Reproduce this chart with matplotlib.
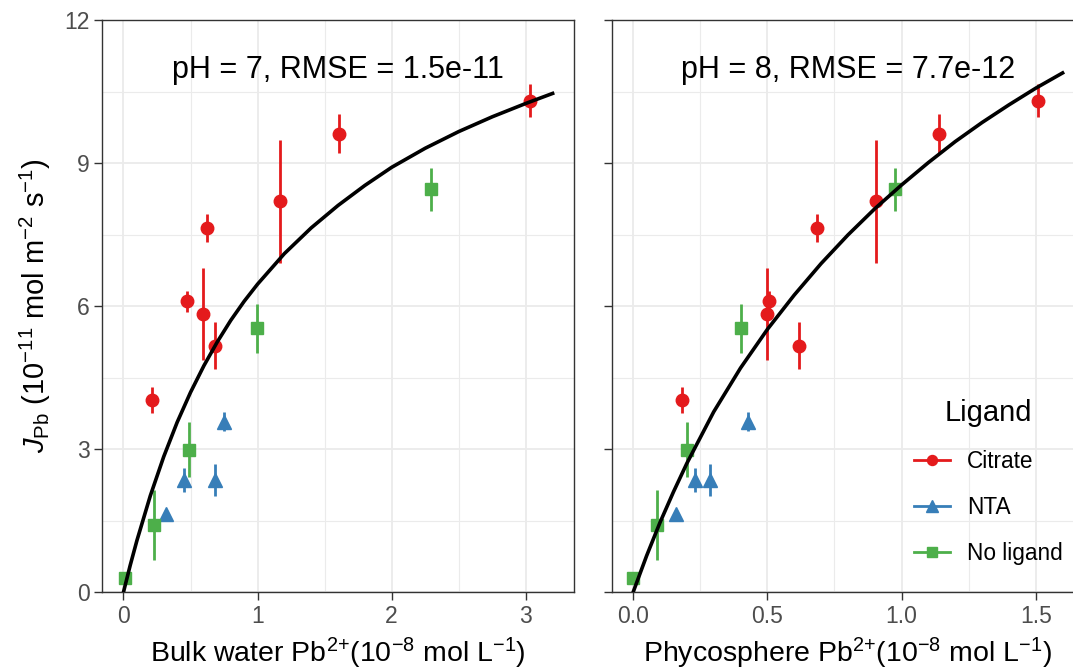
# Pb flux vs Pb2+ concentration, two panels (bulk water / phycosphere)
import numpy as np
import matplotlib
matplotlib.use('Agg')
import matplotlib.pyplot as plt
from matplotlib.lines import Line2D
from matplotlib.ticker import MultipleLocator

plt.rcParams['font.family'] = ['Liberation Sans', 'DejaVu Sans']
plt.rcParams['mathtext.fontset'] = 'custom'
plt.rcParams['mathtext.rm'] = 'Liberation Sans'
plt.rcParams['mathtext.it'] = 'Liberation Sans:italic'

# data (J in 1e-11 mol m-2 s-1, conc in 1e-8 mol L-1)
citrate_bulk = [0.21, 0.47, 0.59, 0.68, 0.62, 1.165, 1.61, 3.03]
citrate_phyco = [0.183, 0.505, 0.497, 0.618, 0.685, 0.903, 1.139, 1.51]
citrate_j = [4.03, 6.10, 5.83, 5.17, 7.64, 8.20, 9.61, 10.31]
citrate_err = [0.27, 0.22, 0.97, 0.49, 0.29, 1.29, 0.41, 0.34]

nta_bulk = [0.315, 0.45, 0.68, 0.748]
nta_phyco = [0.158, 0.232, 0.286, 0.426]
nta_j = [1.63, 2.35, 2.35, 3.57]
nta_err = [0.12, 0.25, 0.33, 0.2]

noligand_bulk = [0.01, 0.228, 0.49, 0.996, 2.29]
noligand_phyco = [0.0, 0.089, 0.201, 0.401, 0.976]
noligand_j = [0.30, 1.41, 2.99, 5.53, 8.45]
noligand_err = [0.05, 0.74, 0.58, 0.52, 0.45]

# fitted curves
fit7_x = [0, 0.05, 0.1, 0.2, 0.3, 0.4, 0.5, 0.6, 0.7, 0.8, 0.9, 1.0, 1.2, 1.4,
          1.6, 1.8, 2.0, 2.25, 2.5, 2.75, 3.0, 3.2]
fit7_y = [0, 0.56, 1.08, 2.02, 2.84, 3.56, 4.19, 4.75, 5.25, 5.70, 6.10, 6.46,
          7.10, 7.64, 8.11, 8.53, 8.91, 9.31, 9.66, 9.97, 10.25, 10.46]
fit8_x = [0, 0.05, 0.1, 0.15, 0.2, 0.3, 0.4, 0.5, 0.6, 0.7, 0.8, 0.9, 1.0,
          1.1, 1.2, 1.3, 1.4, 1.5, 1.6]
fit8_y = [0, 0.76, 1.46, 2.10, 2.70, 3.78, 4.70, 5.51, 6.23, 6.89, 7.49, 8.04,
          8.54, 9.01, 9.45, 9.85, 10.22, 10.57, 10.89]

titles = ['pH = 7, RMSE = 1.5e-11', 'pH = 8, RMSE = 7.7e-12']
xlabels = ['Bulk water Pb$^{2{+}}$(10$^{-8}$ mol L$^{-1}$)',
           'Phycosphere Pb$^{2{+}}$(10$^{-8}$ mol L$^{-1}$)']
ylabel = '$J_{\\rm Pb}$ (10$^{-11}$ mol m$^{-2}$ s$^{-1}$)'

colors = {'Citrate': '#E41A1C', 'NTA': '#377EB8', 'No ligand': '#4DAF4A'}
markers = {'Citrate': ('o', 9), 'NTA': ('^', 10.5), 'No ligand': ('s', 9)}

fig = plt.figure(figsize=(10.73, 6.72), dpi=100)
ax1 = fig.add_axes([0.0951, 0.119, 0.4399, 0.8512])
ax2 = fig.add_axes([0.5701, 0.119, 0.4402, 0.8512])

panels = [
    (ax1, citrate_bulk, nta_bulk, noligand_bulk, fit7_x, fit7_y, (-0.16, 3.36), 1, 0.5),
    (ax2, citrate_phyco, nta_phyco, noligand_phyco, fit8_x, fit8_y, (-0.08, 1.68), 0.5, 0.25),
]

for i, (ax, cx, nx, gx, fx, fy, xlim, major, minor) in enumerate(panels):
    ax.set_xlim(*xlim)
    ax.set_ylim(0, 12)
    ax.xaxis.set_major_locator(MultipleLocator(major))
    ax.xaxis.set_minor_locator(MultipleLocator(minor))
    ax.yaxis.set_major_locator(MultipleLocator(3))
    ax.yaxis.set_minor_locator(MultipleLocator(1.5))
    ax.grid(which='major', color='#EBEBEB', lw=1.3, zorder=0)
    ax.grid(which='minor', color='#EBEBEB', lw=0.8, zorder=0)
    ax.set_axisbelow(True)
    for s in ax.spines.values():
        s.set_color('#333333')
        s.set_linewidth(1.0)
    ax.tick_params(which='major', direction='out', length=5.5, width=1.0,
                   color='#333333', labelcolor='#4D4D4D', labelsize=16.5)
    ax.tick_params(which='minor', length=0)

    groups = [('Citrate', cx, citrate_j, citrate_err),
              ('NTA', nx, nta_j, nta_err),
              ('No ligand', gx, noligand_j, noligand_err)]
    for name, xs, ys, es in groups:
        m, ms = markers[name]
        ax.errorbar(xs, ys, yerr=es, fmt=m, ms=ms, color=colors[name],
                    elinewidth=2, capsize=0, zorder=3)

    ax.plot(fx, fy, color='black', lw=2.6, zorder=4)
    # panel annotation, centred horizontally in the panel
    ax.text(0.5, 10.95, titles[i], transform=ax.get_yaxis_transform(),
            ha='center', va='center', fontsize=22)
    ax.set_xlabel(xlabels[i], fontsize=20.5, labelpad=6)

ax1.set_yticks([0, 3, 6, 9, 12])
ax1.set_ylabel(ylabel, fontsize=21, labelpad=8)
ax2.tick_params(axis='y', labelleft=False)

handles = [Line2D([0], [0], color=colors[n], marker=markers[n][0],
                  ms=markers[n][1] * 0.8, lw=2) for n in colors]
leg = ax2.legend(handles, list(colors), title='Ligand', loc='upper left',
                 bbox_to_anchor=(0.843, 0.42), bbox_transform=fig.transFigure,
                 frameon=False, fontsize=16.3, title_fontsize=21,
                 handlelength=1.6, handletextpad=0.75, labelspacing=1.02,
                 borderaxespad=0)
leg._legend_box.align = 'center'

fig.savefig('out.png', dpi=100)
